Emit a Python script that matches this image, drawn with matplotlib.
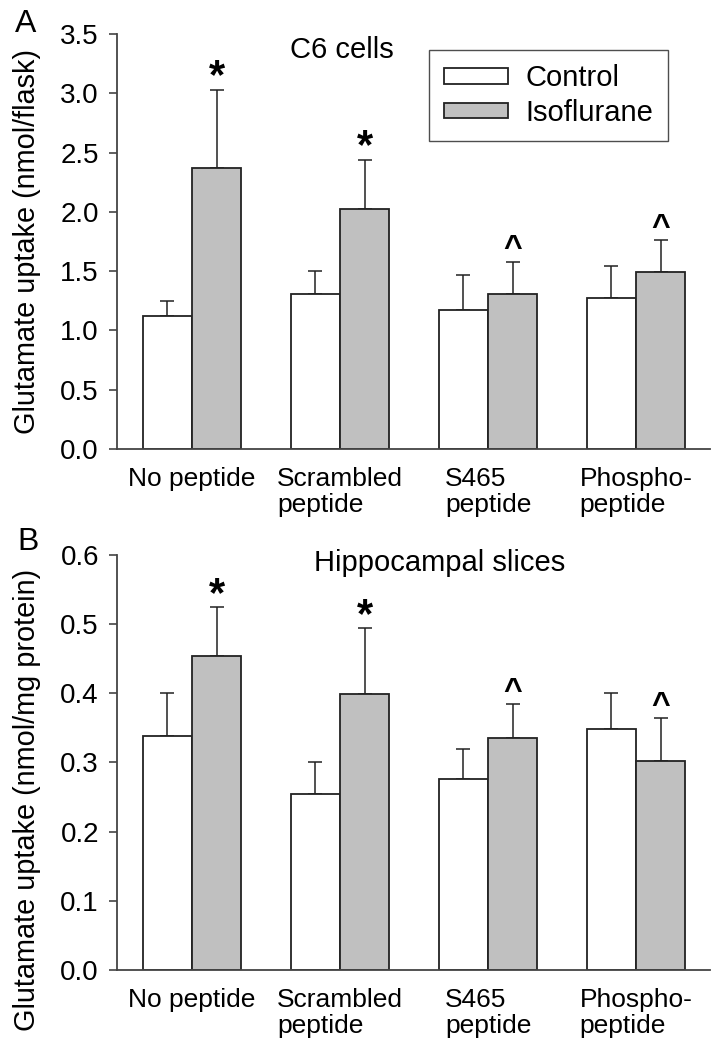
import numpy as np
import matplotlib
matplotlib.use("Agg")
import matplotlib.pyplot as plt

plt.rcParams['font.family'] = ['Liberation Sans', 'DejaVu Sans']

groups = ["No peptide", "Scrambled\npeptide", "S465\npeptide", "Phospho-\npeptide"]
series = ["Control", "Isoflurane"]

# panel A: C6 cells (nmol/flask)
c6_control = [1.12, 1.31, 1.17, 1.27]
c6_control_err = [0.13, 0.19, 0.30, 0.27]
c6_iso = [2.37, 2.02, 1.31, 1.49]
c6_iso_err = [0.66, 0.42, 0.27, 0.27]
c6_marks = ["*", "*", "^", "^"]

# panel B: hippocampal slices (nmol/mg protein)
hip_control = [0.338, 0.255, 0.276, 0.348]
hip_control_err = [0.062, 0.046, 0.043, 0.053]
hip_iso = [0.454, 0.399, 0.335, 0.302]
hip_iso_err = [0.070, 0.095, 0.049, 0.062]
hip_marks = ["*", "*", "^", "^"]

edge = "#222222"
gray = "#c0c0c0"
w = 1 / 3


def draw_panel(ax, ctrl, ctrl_err, iso, iso_err, marks, ymax, step, ylabel, label_y):
    x = np.arange(len(groups))
    ax.bar(x - w / 2, ctrl, w, color="white", edgecolor=edge, linewidth=1.3,
           label=series[0], zorder=2)
    ax.bar(x + w / 2, iso, w, color=gray, edgecolor=edge, linewidth=1.3,
           label=series[1], zorder=2)
    # upper error bars only
    ax.errorbar(x - w / 2, ctrl, yerr=[np.zeros(len(ctrl)), ctrl_err], fmt="none",
                ecolor=edge, elinewidth=1.1, capsize=4.7, capthick=1.1, zorder=1)
    ax.errorbar(x + w / 2, iso, yerr=[np.zeros(len(iso)), iso_err], fmt="none",
                ecolor=edge, elinewidth=1.1, capsize=4.7, capthick=1.1, zorder=1)

    for i, m in enumerate(marks):
        top = iso[i] + iso_err[i]
        if m == "*":
            ax.annotate(m, (x[i] + w / 2, top), xytext=(0, 1), textcoords="offset points",
                        ha="center", va="baseline", fontsize=30, fontweight="bold")
        else:
            ax.annotate(m, (x[i] + w / 2, top), xytext=(0, 3), textcoords="offset points",
                        ha="center", va="baseline", fontsize=23, fontweight="bold")

    ax.set_xlim(-0.507, 3.5)
    ax.set_ylim(0, ymax)
    ax.set_yticks(np.arange(0, ymax + step / 2, step))
    ax.yaxis.set_major_formatter(matplotlib.ticker.FormatStrFormatter("%.1f"))
    ax.set_xticks(x)
    ax.set_xticklabels(groups, multialignment="left", fontsize=19, linespacing=1.08)
    ax.tick_params(axis="x", length=0, pad=13)
    ax.tick_params(axis="y", direction="out", length=6, width=1.2, color="#444444",
                   labelsize=20, pad=7)
    for s in ["top", "right"]:
        ax.spines[s].set_visible(False)
    for s in ["left", "bottom"]:
        ax.spines[s].set_color("#444444")
        ax.spines[s].set_linewidth(1.3)
    ax.set_ylabel(ylabel, fontsize=20.8)
    ax.yaxis.set_label_coords(-0.128, label_y)


fig = plt.figure(figsize=(7.21, 10.5), dpi=100)
ax1 = fig.add_axes([0.1623, 0.5724, 0.8225, 0.3952])
ax2 = fig.add_axes([0.1623, 0.0762, 0.8225, 0.3954])

draw_panel(ax1, c6_control, c6_control_err, c6_iso, c6_iso_err, c6_marks,
           3.5, 0.5, "Glutamate uptake (nmol/flask)", 0.5)
draw_panel(ax2, hip_control, hip_control_err, hip_iso, hip_iso_err, hip_marks,
           0.6, 0.1, "Glutamate uptake (nmol/mg protein)", 0.41)

ax1.text(1.01, 3.30, "C6 cells", ha="center", va="baseline", fontsize=21)
ax2.text(1.67, 0.577, "Hippocampal slices", ha="center", va="baseline", fontsize=21)

leg = ax1.legend(loc="upper left", bbox_to_anchor=(0.526, 0.962), fontsize=21,
                 frameon=True, fancybox=False, edgecolor="#222222",
                 handlelength=2.2, handleheight=0.42, handletextpad=0.6,
                 labelspacing=0.22, borderpad=0.5, borderaxespad=0)
leg.get_frame().set_linewidth(1.0)

fig.text(0.021, 0.97, "A", fontsize=23, va="baseline")
fig.text(0.024, 0.476, "B", fontsize=23, va="baseline")

fig.savefig("out.png", dpi=100)
